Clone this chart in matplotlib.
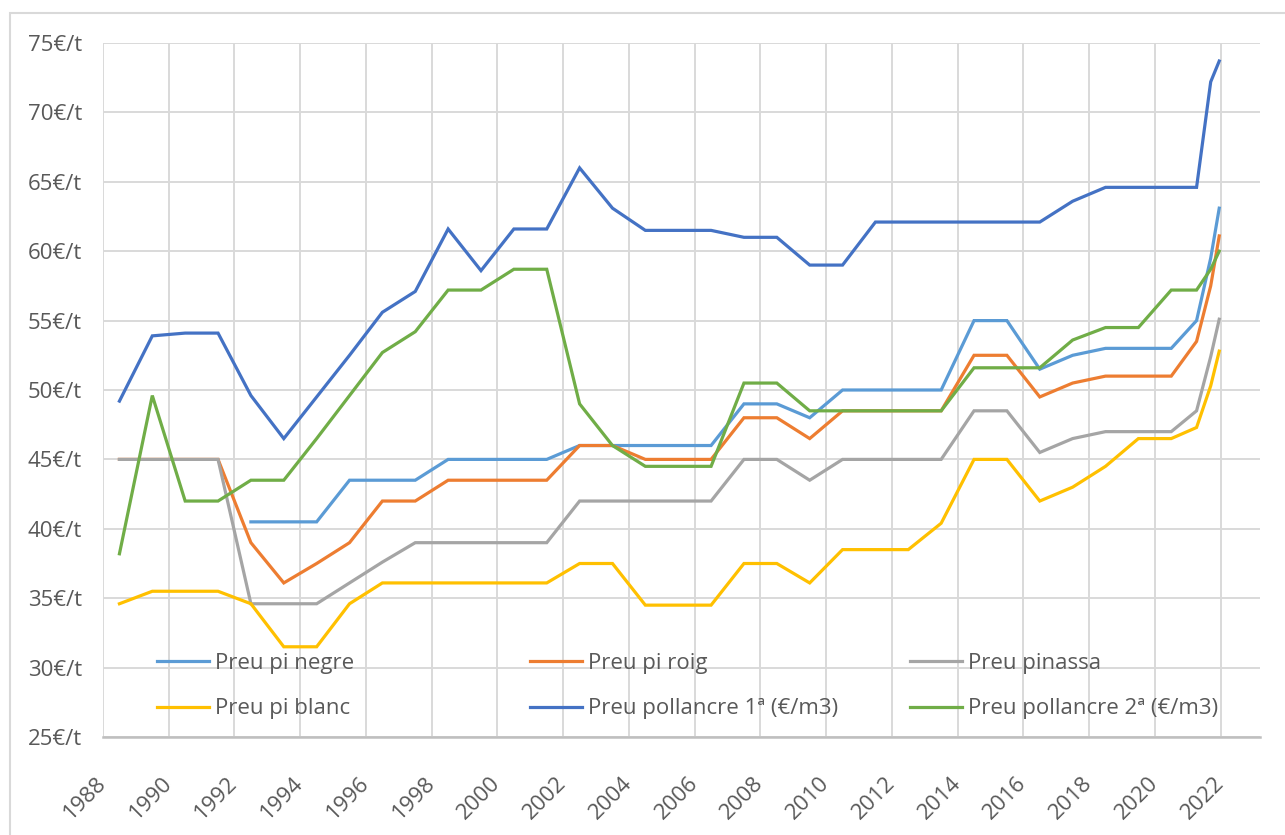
import numpy as np
import matplotlib.pyplot as plt
from matplotlib.patches import Rectangle

plt.rcParams['font.family'] = ['Open Sans', 'DejaVu Sans']

nan = np.nan

# mid-year observations, plus three extra points during 2021
years = [1988.5, 1989.5, 1990.5, 1991.5, 1992.5, 1993.5, 1994.5, 1995.5,
         1996.5, 1997.5, 1998.5, 1999.5, 2000.5, 2001.5, 2002.5, 2003.5,
         2004.5, 2005.5, 2006.5, 2007.5, 2008.5, 2009.5, 2010.5, 2011.5,
         2012.5, 2013.5, 2014.5, 2015.5, 2016.5, 2017.5, 2018.5, 2019.5,
         2020.5, 2021.27, 2021.7, 2021.96]

pi_negre = [nan, nan, nan, nan, 40.5, 40.5, 40.5, 43.5,
            43.5, 43.5, 45.0, 45.0, 45.0, 45.0, 46.0, 46.0,
            46.0, 46.0, 46.0, 49.0, 49.0, 48.0, 50.0, 50.0,
            50.0, 50.0, 55.0, 55.0, 51.5, 52.5, 53.0, 53.0,
            53.0, 55.0, 59.5, 63.1]

pi_roig = [45.0, 45.0, 45.0, 45.0, 39.0, 36.1, 37.5, 39.0,
           42.0, 42.0, 43.5, 43.5, 43.5, 43.5, 46.0, 46.0,
           45.0, 45.0, 45.0, 48.0, 48.0, 46.5, 48.5, 48.5,
           48.5, 48.5, 52.5, 52.5, 49.5, 50.5, 51.0, 51.0,
           51.0, 53.5, 57.5, 61.1]

pinassa = [45.0, 45.0, 45.0, 45.0, 34.6, 34.6, 34.6, 36.1,
           37.6, 39.0, 39.0, 39.0, 39.0, 39.0, 42.0, 42.0,
           42.0, 42.0, 42.0, 45.0, 45.0, 43.5, 45.0, 45.0,
           45.0, 45.0, 48.5, 48.5, 45.5, 46.5, 47.0, 47.0,
           47.0, 48.5, 52.4, 55.1]

pi_blanc = [34.6, 35.5, 35.5, 35.5, 34.6, 31.5, 31.5, 34.6,
            36.1, 36.1, 36.1, 36.1, 36.1, 36.1, 37.5, 37.5,
            34.5, 34.5, 34.5, 37.5, 37.5, 36.1, 38.5, 38.5,
            38.5, 40.4, 45.0, 45.0, 42.0, 43.0, 44.5, 46.5,
            46.5, 47.3, 50.3, 52.8]

pollancre_1 = [49.2, 53.9, 54.1, 54.1, 49.6, 46.5, 49.5, 52.5,
               55.6, 57.1, 61.6, 58.6, 61.6, 61.6, 66.0, 63.1,
               61.5, 61.5, 61.5, 61.0, 61.0, 59.0, 59.0, 62.1,
               62.1, 62.1, 62.1, 62.1, 62.1, 63.6, 64.6, 64.6,
               64.6, 64.6, 72.2, 73.7]

pollancre_2 = [38.2, 49.6, 42.0, 42.0, 43.5, 43.5, 46.5, 49.6,
               52.7, 54.2, 57.2, 57.2, 58.7, 58.7, 49.0, 46.0,
               44.5, 44.5, 44.5, 50.5, 50.5, 48.5, 48.5, 48.5,
               48.5, 48.5, 51.6, 51.6, 51.6, 53.6, 54.5, 54.5,
               57.2, 57.2, 58.7, 60.0]

labels = ['Preu pi negre', 'Preu pi roig', 'Preu pinassa',
          'Preu pi blanc', 'Preu pollancre 1ª (€/m3)', 'Preu pollancre 2ª (€/m3)']
series = [pi_negre, pi_roig, pinassa, pi_blanc, pollancre_1, pollancre_2]
colors = ['#5B9BD5', '#ED7D31', '#A5A5A5', '#FFC000', '#4472C4', '#70AD47']

x_ticks = list(range(1988, 2023, 2))
y_ticks = list(range(25, 80, 5))

text_color = '#595959'
fsize = 16

fig = plt.figure(figsize=(12.85, 8.35), dpi=100)
ax = fig.add_axes([103 / 1285, 1 - 737 / 835, (1260 - 103) / 1285, (737 - 43) / 835])

# chart area border
fig.patches.append(Rectangle((10 / 1285, -0.05), 1.2, 1 - 13 / 835 + 0.05,
                             transform=fig.transFigure, fill=False,
                             edgecolor='#d9d9d9', linewidth=1.5))

lines = []
for vals, lab, col in zip(series, labels, colors):
    ln, = ax.plot(years, vals, color=col, linewidth=2.3, label=lab,
                  solid_joinstyle='miter', zorder=3)
    lines.append(ln)

ax.set_xlim(1988, 2023.2)
ax.set_ylim(25, 75)
ax.set_xticks(x_ticks)
ax.set_yticks(y_ticks)
ax.set_yticklabels([f'{v}€/t' for v in y_ticks])
ax.set_xticklabels([str(v) for v in x_ticks], rotation=45, ha='right',
                   va='center', rotation_mode='anchor')

ax.grid(True, color='#d9d9d9', linewidth=1.4, zorder=0)
ax.set_axisbelow(True)
for side in ['top', 'right', 'left']:
    ax.spines[side].set_visible(False)
ax.spines['bottom'].set_color('#bfbfbf')
ax.spines['bottom'].set_linewidth(1.8)

ax.tick_params(axis='both', length=0, labelsize=fsize, labelcolor=text_color)
ax.tick_params(axis='y', pad=15)
ax.tick_params(axis='x', pad=31)

# legend: three columns placed like the Excel legend (row-major order)
col_x = [157, 530, 910]
for i, cx in enumerate(col_x):
    fig.legend([lines[i], lines[i + 3]], [labels[i], labels[i + 3]],
               loc='upper left', bbox_to_anchor=(cx / 1285, 1 - 653 / 835),
               bbox_transform=fig.transFigure, frameon=False,
               fontsize=fsize, labelcolor=text_color, handlelength=2.35,
               handletextpad=0.27, borderpad=0, borderaxespad=0,
               labelspacing=1.1)

fig.savefig('out.png', dpi=100)
